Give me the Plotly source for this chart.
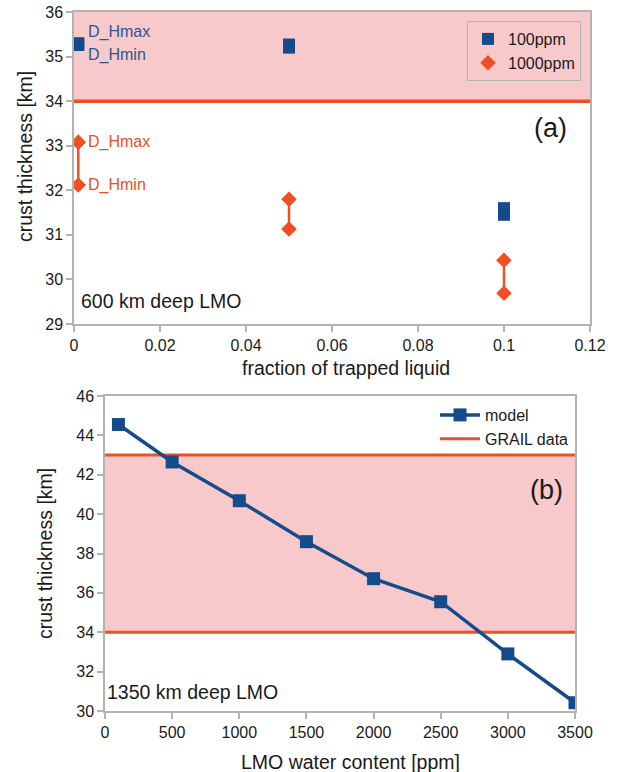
import plotly.graph_objects as go

# ---------------- data ----------------
# panel (a): 600 km deep LMO
trapped_fraction = [0.001, 0.05, 0.1]
ppm100_max = [35.30, 35.27, 31.60]
ppm100_min = [35.26, 35.20, 31.45]
ppm1000_max = [33.08, 31.80, 30.43]
ppm1000_min = [32.12, 31.13, 29.69]

# panel (b): 1350 km deep LMO
water_ppm = [100, 500, 1000, 1500, 2000, 2500, 3000, 3500]
model_thickness = [44.55, 42.65, 40.68, 38.60, 36.72, 35.55, 32.90, 30.42]

grail_range = [34, 43]

xa_ticks = [0, 0.02, 0.04, 0.06, 0.08, 0.1, 0.12]
xa_ticklabels = ["0", "0.02", "0.04", "0.06", "0.08", "0.1", "0.12"]
ya_ticks = [29, 30, 31, 32, 33, 34, 35, 36]
xb_ticks = [0, 500, 1000, 1500, 2000, 2500, 3000, 3500]
yb_ticks = [30, 32, 34, 36, 38, 40, 42, 44, 46]

# ---------------- style ----------------
BLUE = "#154b8b"
BLUE_TXT = "#2b5596"
RED = "#f04e23"
PINK = "#f8c9cb"
AXIS = "#b3b3b3"
TXT = "#1a1a1a"
FONT = "Liberation Sans, Arial, sans-serif"
TICK = 16
TITLE = 19.5

W, H = 617, 772
def px_x(p):
    return p / W
def px_y(p):
    return 1 - p / H

xa_range = [0, 0.12]
ya_range = [29, 36]
xb_range = [0, 3500]
yb_range = [30, 46]

fig = go.Figure()

def hilo(xs, hi, lo):
    X, Y = [], []
    for x, h, l in zip(xs, hi, lo):
        X += [x, x, None]
        Y += [h, l, None]
    return X, Y

# ---- panel (a)
hx, hy = hilo(trapped_fraction, ppm1000_max, ppm1000_min)
fig.add_trace(go.Scatter(x=hx, y=hy, mode="lines", line=dict(color=RED, width=2.5),
                         showlegend=False, hoverinfo="skip", xaxis="x", yaxis="y"))
bx, by = hilo(trapped_fraction, ppm100_max, ppm100_min)
fig.add_trace(go.Scatter(x=bx, y=by, mode="lines", line=dict(color=BLUE, width=2.5),
                         showlegend=False, hoverinfo="skip", xaxis="x", yaxis="y"))
fig.add_trace(go.Scatter(x=trapped_fraction + trapped_fraction, y=ppm100_max + ppm100_min,
                         mode="markers", name="100ppm",
                         marker=dict(symbol="square", size=12, color=BLUE),
                         xaxis="x", yaxis="y", legend="legend"))
fig.add_trace(go.Scatter(x=trapped_fraction + trapped_fraction, y=ppm1000_max + ppm1000_min,
                         mode="markers", name="1000ppm",
                         marker=dict(symbol="diamond", size=12, color=RED),
                         xaxis="x", yaxis="y", legend="legend"))

# ---- panel (b)
for i, g in enumerate(grail_range):
    fig.add_trace(go.Scatter(x=xb_range, y=[g, g], mode="lines", name="GRAIL data",
                             line=dict(color=RED, width=3), showlegend=(i == 0),
                             legendrank=2, hoverinfo="skip",
                             xaxis="x2", yaxis="y2", legend="legend2"))
fig.add_trace(go.Scatter(x=water_ppm, y=model_thickness, mode="lines+markers", name="model",
                         line=dict(color=BLUE, width=3.5), legendrank=1,
                         marker=dict(symbol="square", size=13, color=BLUE),
                         xaxis="x2", yaxis="y2", legend="legend2"))

shapes = [
    dict(type="rect", xref="x domain", yref="y", x0=0, x1=1,
         y0=grail_range[0], y1=min(grail_range[1], ya_range[1]),
         fillcolor=PINK, line=dict(width=0), layer="below"),
    dict(type="line", xref="x domain", yref="y", x0=0, x1=1,
         y0=grail_range[0], y1=grail_range[0], line=dict(color=RED, width=3.5)),
    dict(type="rect", xref="x2 domain", yref="y2", x0=0, x1=1,
         y0=grail_range[0], y1=grail_range[1],
         fillcolor=PINK, line=dict(width=0), layer="below"),
]

axis_common = dict(showline=True, linecolor=AXIS, linewidth=1.5, mirror=True,
                   ticks="outside", tickcolor=AXIS, ticklen=6, tickwidth=1.5,
                   showgrid=False, zeroline=False, automargin=False,
                   tickfont=dict(family=FONT, size=TICK, color=TXT))

fig.update_layout(
    width=W, height=H, autosize=False,
    margin=dict(l=0, r=0, t=0, b=0, pad=0, autoexpand=False),
    paper_bgcolor="white", plot_bgcolor="white",
    font=dict(family=FONT, color=TXT),
    xaxis=dict(domain=[px_x(74), px_x(590)], range=xa_range, tickvals=xa_ticks,
               ticktext=xa_ticklabels, anchor="y", **axis_common),
    yaxis=dict(domain=[px_y(324), px_y(12)], range=ya_range, tickvals=ya_ticks,
               anchor="x", **axis_common),
    xaxis2=dict(domain=[px_x(105), px_x(575)], range=xb_range, tickvals=xb_ticks,
                anchor="y2", **axis_common),
    yaxis2=dict(domain=[px_y(711), px_y(396)], range=yb_range, tickvals=yb_ticks,
                anchor="x2", **axis_common),
    shapes=shapes,
    legend=dict(x=px_x(581), y=px_y(21), xanchor="right", yanchor="top",
                bgcolor="rgba(0,0,0,0)", bordercolor=AXIS, borderwidth=1,
                font=dict(family=FONT, size=TICK, color=TXT),
                itemwidth=30, tracegroupgap=0),
    legend2=dict(x=px_x(574), y=px_y(398), xanchor="right", yanchor="top",
                 bgcolor="rgba(0,0,0,0)", borderwidth=0,
                 font=dict(family=FONT, size=TICK, color=TXT),
                 itemwidth=40, tracegroupgap=0),
    showlegend=True,
)

ann = []
def txt(s, x, y, size=TITLE, angle=0, anchor="center", color=TXT):
    ann.append(dict(text=s, xref="paper", yref="paper", x=px_x(x), y=px_y(y),
                    xanchor=anchor, yanchor="middle", textangle=angle, showarrow=False,
                    font=dict(family=FONT, size=size, color=color)))

txt("crust thickness [km]", 25, 157, angle=-90)
txt("fraction of trapped liquid", 346, 368)
txt("crust thickness [km]", 45, 553, angle=-90)
txt("LMO water content [ppm]", 350, 762)
txt("(a)", 550, 128, size=27)
txt("(b)", 546, 490, size=27)
txt("600 km deep LMO", 79, 301, anchor="left")
txt("1350 km deep LMO", 105, 692, anchor="left")

def dh(s, y, yshift, color):
    ann.append(dict(text=s, xref="x", yref="y", x=trapped_fraction[0], y=y,
                    xanchor="left", yanchor="middle", xshift=8, yshift=yshift, showarrow=False,
                    font=dict(family=FONT, size=TICK, color=color)))

dh("D_Hmax", ppm100_max[0], 11, BLUE_TXT)
dh("D_Hmin", ppm100_min[0], -10, BLUE_TXT)
dh("D_Hmax", ppm1000_max[0], 0, RED)
dh("D_Hmin", ppm1000_min[0], 0, RED)
fig.update_layout(annotations=ann)

fig.write_html("out.html", config={"displayModeBar": False},
               post_script="document.body.style.margin='0';document.body.style.overflow='hidden';")
